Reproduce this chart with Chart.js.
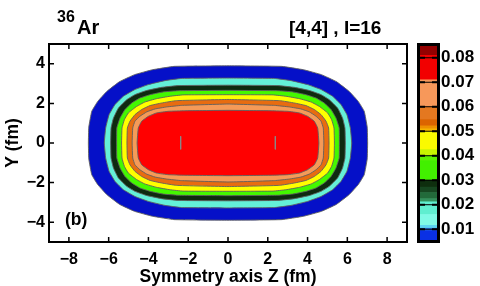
<!DOCTYPE html>
<html>
<head>
<meta charset="utf-8">
<script src="https://cdn.jsdelivr.net/npm/chart.js@4.4.1/dist/chart.umd.min.js"></script>
<style>
  body { margin: 0; background: #fff; }
  #wrap { position: relative; width: 480px; height: 286px; font-family: "Liberation Sans", Arial, sans-serif; font-weight: bold; color: #000; }
  #mainbox { position: absolute; left: 0; top: 0; width: 410px; height: 286px; }
  #barbox { position: absolute; left: 400px; top: 0; width: 80px; height: 286px; }
  .lbl { position: absolute; white-space: nowrap; line-height: 1; font-weight: bold; }
</style>
</head>
<body>
<div id="wrap">
  <div id="mainbox"><canvas id="contour"></canvas></div>
  <div id="barbox"><canvas id="cbar"></canvas></div>
  <div class="lbl" style="left:57px;top:9px;font-size:16px">36</div>
  <div class="lbl" style="left:77px;top:17px;font-size:20px">Ar</div>
  <div class="lbl" style="left:289px;top:18px;font-size:19px">[4,4] , I=16</div>
  <div class="lbl" style="left:65px;top:211px;font-size:17.5px">(b)</div>
</div>
<script>
// density levels (fm^-3), outermost first, and their fill colours
const levels = [0.0056, 0.01, 0.02, 0.03, 0.04, 0.05, 0.06, 0.07];
const levelColors = ['#0510c8', '#64f0d8', '#0e2a10', '#44f800', '#ffff00', '#e86c10', '#f59a58', '#ff0000'];

// contour boundaries, one quadrant (Z>=0, Y>=0),
// going from the Y axis round to the Z axis
const blueZ = [0, 2.7, 3.8, 4.7, 5.45, 6.1, 6.55, 6.85, 7.0, 7.02];
const blueY = [3.9, 3.87, 3.7, 3.45, 3.1, 2.6, 2.1, 1.6, 0.8, 0];
const aquaZ = [0, 2.34, 3.17, 4.0, 4.68, 5.26, 5.68, 5.98, 6.15, 6.22];
const aquaY = [3.28, 3.26, 3.15, 2.95, 2.7, 2.36, 1.94, 1.43, 0.76, 0];
const dkgreenZ = [0, 2.5, 3.34, 4.1, 4.68, 5.09, 5.51, 5.76, 5.88, 5.9];
const dkgreenY = [2.92, 2.9, 2.81, 2.65, 2.44, 2.19, 1.77, 1.26, 0.76, 0];
const greenZ = [0, 2.5, 3.26, 3.92, 4.43, 4.84, 5.18, 5.43, 5.59, 5.6];
const greenY = [2.66, 2.64, 2.58, 2.44, 2.27, 2.02, 1.69, 1.26, 0.76, 0];
const yellowZ = [0, 2.26, 2.92, 3.59, 4.18, 4.59, 5.01, 5.21, 5.33, 5.35];
const yellowY = [2.44, 2.43, 2.36, 2.24, 2.07, 1.85, 1.52, 1.18, 0.76, 0];
const orangeZ = [0, 2.59, 3.34, 3.92, 4.34, 4.68, 4.93, 5.06, 5.08];
const orangeY = [2.2, 2.14, 2.02, 1.89, 1.69, 1.43, 1.1, 0.76, 0];
const salmonZ = [0, 2.34, 3.09, 3.67, 4.09, 4.43, 4.68, 4.79, 4.82];
const salmonY = [1.97, 1.9, 1.82, 1.72, 1.57, 1.35, 1.1, 0.76, 0];
const redZ = [0, 2.17, 3.0, 3.59, 4.0, 4.34, 4.51, 4.57];
const redY = [1.65, 1.63, 1.6, 1.52, 1.35, 1.1, 0.76, 0];

// the two little 0.08 contours near the density maxima
const peakZ = [-2.38, 2.38];
const peakTop = 0.34;
const peakBottom = -0.32;

const zTicks = [-8, -6, -4, -2, 0, 2, 4, 6, 8];
const yTicks = [-4, -2, 0, 2, 4];

// colour bar
const cbarEdges = [0.0056, 0.0094, 0.0104, 0.0116, 0.016, 0.0212, 0.0225, 0.025, 0.0272, 0.03, 0.038, 0.04,
                   0.0425, 0.05, 0.051, 0.0522, 0.0548, 0.06, 0.071, 0.081, 0.0848];
const cbarColors = ['#0a30e4', '#2a70e4', '#5cd4f0', '#80fae6', '#60eed0', '#34905c', '#226a3a', '#164620',
                    '#0e2e0e', '#42f000', '#5cf000', '#c8f400', '#fafa00', '#f6b400', '#ee9000', '#dc6400',
                    '#e47820', '#f7985a', '#f20000', '#940000'];
const cbarTicks = [0.01, 0.02, 0.03, 0.04, 0.05, 0.06, 0.07, 0.08];

const bounds = [[blueZ, blueY], [aquaZ, aquaY], [dkgreenZ, dkgreenY], [greenZ, greenY],
                [yellowZ, yellowY], [orangeZ, orangeY], [salmonZ, salmonY], [redZ, redY]];

// mirror one quadrant into a closed loop
function loop(zs, ys) {
  const q = zs.map((z, i) => ({x: z, y: ys[i]}));
  const pts = q.slice();
  for (let i = q.length - 2; i >= 0; i--) pts.push({x: q[i].x, y: -q[i].y});
  for (let i = 1; i < q.length; i++) pts.push({x: -q[i].x, y: -q[i].y});
  for (let i = q.length - 2; i >= 0; i--) pts.push({x: -q[i].x, y: q[i].y});
  return pts;
}

const font = {family: 'Liberation Sans', size: 16, weight: 'bold'};
const titleFont = {family: 'Liberation Sans', size: 17.5, weight: 'bold'};
const minus = v => (v < 0 ? '\u2212' + Math.abs(v) : String(v));

// box round the plot area with ticks pointing inwards (matlab style)
const boxAxes = {
  id: 'boxAxes',
  afterDatasetsDraw(chart, args, o) {
    const {ctx, chartArea: a} = chart;
    ctx.save();
    ctx.strokeStyle = '#000';
    for (const s of Object.values(chart.scales)) {
      if (!s.options.display) continue;
      for (const t of s.ticks) {
        const p = s.getPixelForValue(t.value);
        if (o.across && !s.isHorizontal()) {
          ctx.lineWidth = 1;
          ctx.beginPath();
          ctx.moveTo(a.left, p);
          ctx.lineTo(a.right, p);
          ctx.stroke();
        }
        ctx.lineWidth = o.tickWidth;
        ctx.beginPath();
        if (s.isHorizontal()) {
          ctx.moveTo(p, a.bottom); ctx.lineTo(p, a.bottom - o.tickLen);
          ctx.moveTo(p, a.top); ctx.lineTo(p, a.top + o.tickLen);
        } else {
          ctx.moveTo(a.left, p); ctx.lineTo(a.left + o.tickLen, p);
          ctx.moveTo(a.right, p); ctx.lineTo(a.right - o.tickLen, p);
        }
        ctx.stroke();
      }
    }
    const g = o.outside ? o.width / 2 : 0;
    ctx.lineWidth = o.width;
    ctx.strokeRect(a.left - g, a.top - g, a.right - a.left + 2 * g, a.bottom - a.top + 2 * g);
    ctx.restore();
  }
};

const datasets = [{
  data: [{x: peakZ[0], y: peakTop}, {x: peakZ[0], y: peakBottom}, {x: 0, y: null},
         {x: peakZ[1], y: peakTop}, {x: peakZ[1], y: peakBottom}],
  showLine: true, borderColor: '#888', borderWidth: 1, pointRadius: 0, fill: false
}];
for (let i = bounds.length - 1; i >= 0; i--) {
  datasets.push({
    label: String(levels[i]),
    data: loop(bounds[i][0], bounds[i][1]),
    showLine: true,
    fill: 'shape',
    backgroundColor: levelColors[i],
    borderColor: 'rgba(95,95,95,0.9)',
    borderWidth: 1,
    pointRadius: 0,
    tension: 0.1
  });
}

new Chart(document.getElementById('contour'), {
  type: 'scatter',
  data: {datasets},
  options: {
    responsive: true,
    maintainAspectRatio: false,
    animation: false,
    layout: {padding: {top: 44, right: 3, left: 0, bottom: 0}},
    plugins: {
      legend: {display: false},
      tooltip: {enabled: false},
      boxAxes: {width: 2, tickWidth: 1.5, tickLen: 5}
    },
    scales: {
      x: {
        type: 'linear', min: -9, max: 9,
        afterBuildTicks: s => { s.ticks = zTicks.map(v => ({value: v})); },
        afterFit: s => { s.height = 44; },
        grid: {display: false, drawTicks: false},
        border: {display: false},
        ticks: {font, color: '#000', padding: 8, maxRotation: 0, autoSkip: false, callback: minus},
        title: {display: true, text: 'Symmetry axis Z (fm)', color: '#000', font: titleFont,
                padding: {top: 0, bottom: -2}}
      },
      y: {
        type: 'linear', min: -5, max: 5,
        afterBuildTicks: s => { s.ticks = yTicks.map(v => ({value: v})); },
        afterFit: s => { s.width = 49; },
        grid: {display: false, drawTicks: false},
        border: {display: false},
        ticks: {font, color: '#000', padding: 4, autoSkip: false, callback: minus},
        title: {display: true, text: 'Y (fm)', color: '#000', font: titleFont,
                padding: {top: 3, bottom: 0}}
      }
    }
  },
  plugins: [boxAxes]
});

new Chart(document.getElementById('cbar'), {
  type: 'bar',
  data: {
    labels: [''],
    datasets: cbarColors.map((c, i) => ({
      data: [[cbarEdges[i], cbarEdges[i + 1]]],
      backgroundColor: c,
      borderWidth: 0,
      barPercentage: 1,
      categoryPercentage: 1,
      grouped: false
    }))
  },
  options: {
    responsive: true,
    maintainAspectRatio: false,
    animation: false,
    layout: {padding: {left: 20, top: 46, bottom: 46, right: 0}},
    plugins: {
      legend: {display: false},
      tooltip: {enabled: false},
      boxAxes: {width: 3, tickWidth: 2, tickLen: 5, outside: true, across: true}
    },
    scales: {
      x: {display: false},
      y: {
        position: 'right', min: 0.0056, max: 0.0848,
        afterBuildTicks: s => { s.ticks = cbarTicks.map(v => ({value: v})); },
        afterFit: s => { s.width = 43; },
        grid: {display: false, drawTicks: false},
        border: {display: false},
        ticks: {font: {family: 'Liberation Sans', size: 17, weight: 'bold'}, color: '#000', padding: 4,
                autoSkip: false, callback: v => v.toFixed(2)}
      }
    }
  },
  plugins: [boxAxes]
});
</script>
</body>
</html>
